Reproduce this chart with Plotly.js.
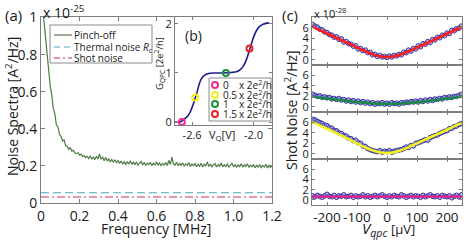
<!DOCTYPE html>
<html>
<head>
<meta charset="utf-8">
<script src="https://cdn.plot.ly/plotly-3.0.1.min.js"></script>
<style>html,body{margin:0;padding:0;background:#fff;}#chart{width:471px;height:243px;}</style>
</head>
<body>
<div id="chart"></div>
<script>
// ---------- Panel (a): noise spectra ----------
const freqStart = 0.008, freqStep = 0.008;
const pinchOff = [
 1.06,0.97,0.88,0.80,0.73,0.63,0.58,0.51,0.48,0.42,
 0.41,0.37,0.36,0.335,0.34,0.31,0.305,0.29,0.298,0.28,
 0.284,0.27,0.266,0.272,0.258,0.264,0.25,0.256,0.245,0.252,
 0.24,0.255,0.236,0.248,0.234,0.252,0.238,0.264,0.236,0.247,
 0.228,0.245,0.226,0.238,0.222,0.235,0.22,0.233,0.216,0.23,
 0.213,0.226,0.21,0.223,0.207,0.222,0.21,0.228,0.208,0.22,
 0.206,0.221,0.204,0.216,0.224,0.205,0.218,0.203,0.215,0.207,
 0.22,0.202,0.214,0.205,0.222,0.203,0.216,0.201,0.213,0.205,
 0.218,0.202,0.229,0.208,0.247,0.21,0.204,0.22,0.201,0.214,
 0.203,0.216,0.198,0.212,0.202,0.218,0.197,0.21,0.201,0.214,
 0.196,0.209,0.198,0.214,0.194,0.21,0.199,0.222,0.197,0.209,
 0.195,0.207,0.212,0.194,0.208,0.198,0.216,0.195,0.206,0.197,
 0.21,0.194,0.205,0.214,0.195,0.207,0.193,0.205,0.196,0.211,
 0.193,0.206,0.197,0.212,0.192,0.204,0.195,0.208,0.19,0.203,
 0.194,0.207,0.191,0.202,0.194,0.209,0.189,0.201,0.192,0.2
];
const freq = pinchOff.map((_, i) => +(freqStart + i * freqStep).toFixed(4));
const levelX = [0, 1.2];
const thermalNoise = [0.055, 0.055];
const shotNoise = [0.032, 0.032];
const freqTicks = [0, 0.2, 0.4, 0.6, 0.8, 1.0, 1.2];
const freqTickText = ['0', '0.2', '0.4', '0.6', '0.8', '1.0', '1.2'];
const specTicks = [0, 0.2, 0.4, 0.6, 0.8, 1.0];
const specTickText = ['0', '0.2', '0.4', '0.6', '0.8', '1'];

// ---------- Panel (b): conductance inset ----------
const vq = [-2.767,-2.72,-2.70,-2.67,-2.64,-2.62,-2.60,-2.58,-2.57,-2.55,-2.53,-2.51,-2.48,-2.44,-2.38,-2.30,-2.22,-2.16,-2.13,-2.10,-2.08,-2.06,-2.04,-2.02,-2.00,-1.97,-1.94,-1.91,-1.88,-1.85];
const gqpc = [0,0,0.02,0.07,0.13,0.20,0.30,0.42,0.49,0.62,0.78,0.88,0.95,0.99,1.0,1.0,1.01,1.03,1.07,1.14,1.22,1.33,1.47,1.60,1.73,1.87,1.95,1.99,2.01,2.02];
const opV = [-2.70, -2.57, -2.27, -2.04];
const opG = [0, 0.5, 1.0, 1.5];
const opLabels = ['0', '0.5', '1', '1.5'];
const opColors = ['#ee2d8c', '#f2ee1a', '#1f8f3c', '#f02020'];
const vqTicks = [-2.6, -2.0];
const vqTickText = ['-2.6', '-2.0'];
const gTicks = [0, 1, 2];

// ---------- Panel (c): shot noise vs bias ----------
const vFit = [-250,-225,-200,-175,-150,-125,-100,-75,-50,-25,0,25,50,75,100,125,150,175,200,225,250];
const fitRed = [6.2,5.55,4.9,4.25,3.6,2.95,2.3,1.67,1.08,0.65,0.5,0.65,1.08,1.65,2.27,2.9,3.55,4.2,4.85,5.5,6.12];
const fitGreen = [1.95,1.75,1.58,1.4,1.22,1.05,0.9,0.76,0.65,0.57,0.55,0.57,0.64,0.74,0.87,1.02,1.18,1.36,1.55,1.75,1.98];
const fitYellow = [6.1,5.45,4.8,4.1,3.4,2.7,2.0,1.3,0.7,0.28,0.15,0.3,0.75,1.35,2.0,2.65,3.3,3.95,4.6,5.3,6.0];
const fitMagenta = [0.62,0.62,0.62,0.62,0.62,0.62,0.62,0.62,0.62,0.62,0.62,0.62,0.62,0.62,0.62,0.62,0.62,0.62,0.62,0.62,0.62];
const ptsRed = [6.6,6.3,6.1,5.7,5.6,5.2,5.1,4.7,4.6,4.2,4.3,3.8,3.9,3.3,3.4,3.0,2.9,2.5,2.6,2.0,2.1,1.7,1.8,1.3,1.4,0.9,1.0,0.6,0.8,0.5,0.6,0.4,0.7,0.5,0.8,0.7,1.0,0.9,1.4,1.3,1.8,1.6,2.1,2.0,2.6,2.4,3.0,2.9,3.4,3.2,3.8,3.7,4.2,4.1,4.6,4.5,5.0,4.9,5.5,5.4,5.8,5.9,6.3];
const ptsGreen = [2.4,2.2,2.0,2.1,1.8,1.9,1.7,1.8,1.5,1.6,1.4,1.6,1.3,1.4,1.1,1.3,1.0,1.2,0.9,1.1,0.8,1.0,0.7,0.9,0.6,0.8,0.5,0.7,0.6,0.8,0.5,0.7,0.5,0.8,0.6,0.7,0.5,0.8,0.7,0.9,0.8,1.0,0.9,1.1,0.9,1.2,1.0,1.3,1.1,1.4,1.2,1.5,1.4,1.6,1.5,1.8,1.7,1.9,1.8,2.0,2.0,2.2,2.4];
const ptsYellow = [6.6,6.5,6.2,6.0,5.8,5.5,5.4,5.0,4.9,4.5,4.4,4.0,3.9,3.5,3.4,3.0,2.9,2.5,2.6,2.1,2.0,1.5,1.4,1.0,0.8,0.6,0.5,0.4,0.6,0.3,0.5,0.4,0.6,0.3,0.5,0.6,0.7,0.8,1.0,1.3,1.2,1.6,1.5,2.0,2.1,2.3,2.5,2.7,2.6,3.1,3.3,3.5,3.6,3.9,4.1,4.3,4.4,4.8,4.9,5.2,5.3,5.6,5.8];
const ptsMagenta = [0.8,0.6,0.9,0.7,0.5,0.8,1.1,0.7,0.6,0.9,0.5,0.8,0.7,1.0,0.6,0.7,0.9,0.5,0.8,0.6,0.7,1.0,0.6,0.8,0.5,0.7,0.9,0.6,0.8,1.0,0.7,0.5,0.8,0.6,0.9,0.7,0.6,1.0,0.8,0.5,0.7,0.9,0.6,0.8,0.7,0.5,0.9,0.6,0.8,1.0,0.7,0.6,0.8,0.5,0.9,0.7,0.6,0.8,0.4,0.7,0.9,0.6,1.0];
const vPtsMin = -248, vPtsMax = 248;
const biasTicks = [-200, -100, 0, 100, 200];
const biasTickText = ['-200', '-100', '0', '100', '200'];
const shotTicks = [0, 2, 4, 6];

function grid(arr) { const n = arr.length; return arr.map((_, i) => vPtsMin + i * (vPtsMax - vPtsMin) / (n - 1)); }

const W = 471, H = 243;
const px = x => x / W, py = y => 1 - y / H;
const AX = '#7d7d7d';
const FONT = 'Open Sans, DejaVu Sans, sans-serif';

const traces = [];
traces.push({x: freq, y: pinchOff, xaxis: 'x', yaxis: 'y', mode: 'lines', line: {color: '#4e7b45', width: 1.2}});
traces.push({x: levelX, y: thermalNoise, xaxis: 'x', yaxis: 'y', mode: 'lines', line: {color: '#45a9c2', width: 1.1, dash: '8px,4px'}});
traces.push({x: levelX, y: shotNoise, xaxis: 'x', yaxis: 'y', mode: 'lines', line: {color: '#cf2f72', width: 1.1, dash: '8px,3px,2px,3px'}});
traces.push({x: vq, y: gqpc, xaxis: 'x2', yaxis: 'y2', mode: 'lines', line: {color: '#1c1c8c', width: 1.6, shape: 'spline'}});
traces.push({x: opV, y: opG, xaxis: 'x2', yaxis: 'y2', mode: 'markers', marker: {symbol: 'circle-open', size: 6, color: opColors, line: {width: 2, color: opColors}}});

const panels = [
  {pts: ptsRed, fit: fitRed, col: '#ff1f1f', w: 2.6},
  {pts: ptsGreen, fit: fitGreen, col: '#1b8a47', w: 2.4},
  {pts: ptsYellow, fit: fitYellow, col: '#f4f21c', w: 2.6},
  {pts: ptsMagenta, fit: fitMagenta, col: '#e8208a', w: 2.2}
];
panels.forEach((p, i) => {
  const xa = 'x' + (i + 3), ya = 'y' + (i + 3);
  traces.push({x: grid(p.pts), y: p.pts, xaxis: xa, yaxis: ya, mode: 'markers',
    marker: {symbol: 'circle', size: 4.5, color: 'rgba(150,150,225,0.6)', line: {color: '#33339f', width: 1}}});
  traces.push({x: vFit, y: p.fit, xaxis: xa, yaxis: ya, mode: 'lines', line: {color: p.col, width: p.w, shape: 'spline'}});
});
traces.forEach(t => { t.showlegend = false; t.hoverinfo = 'skip'; });

function axisBase(extra) {
  return Object.assign({ticks: 'inside', ticklen: 4, tickcolor: AX, showline: true, linecolor: AX, linewidth: 1,
    mirror: 'ticks', showgrid: false, zeroline: false, tickangle: 0, automargin: false,
    tickfont: {size: 14, color: '#1a1a1a'}, fixedrange: true}, extra);
}

const layout = {
  width: W, height: H, margin: {l: 0, r: 0, t: 0, b: 0}, autosize: false,
  paper_bgcolor: '#fff', plot_bgcolor: '#fff', showlegend: false,
  font: {family: FONT, color: '#1a1a1a'},
  xaxis: axisBase({domain: [px(41), px(272)], range: [0, 1.2], anchor: 'y', tickvals: freqTicks, ticktext: freqTickText}),
  yaxis: axisBase({domain: [py(203), py(17)], range: [0, 1.003], anchor: 'x', tickvals: specTicks, ticktext: specTickText}),
  xaxis2: axisBase({domain: [px(175), px(272)], range: [-2.767, -1.82], anchor: 'y2', tickvals: vqTicks, ticktext: vqTickText, ticklen: 3, tickfont: {size: 11, color: '#1a1a1a'}}),
  yaxis2: axisBase({domain: [py(125), py(17)], range: [-0.06, 2.14], anchor: 'x2', tickvals: gTicks, ticktext: gTicks.map(String), ticklen: 3, tickfont: {size: 11, color: '#1a1a1a'}}),
  annotations: [], shapes: []
};
const cDomains = [[65, 17], [112, 65], [159, 112], [205, 159]];
cDomains.forEach((d, i) => {
  const n = i + 3;
  layout['xaxis' + n] = axisBase({domain: [px(312), px(462)], range: [-250, 250], anchor: 'y' + n,
    tickvals: biasTicks, ticktext: biasTickText, showticklabels: i === 3, ticklen: 3, tickfont: {size: 13.5, color: '#1a1a1a'}});
  layout['yaxis' + n] = axisBase({domain: [py(d[0]), py(d[1])], range: [-1, 8], anchor: 'x' + n,
    tickvals: shotTicks, ticktext: shotTicks.map(String), ticklen: 3, tickfont: {size: 11, color: '#1a1a1a'}});
});

function ann(x, y, text, size, opts) {
  layout.annotations.push(Object.assign({xref: 'paper', yref: 'paper', x: px(x), y: py(y), text: text, showarrow: false,
    xanchor: 'left', yanchor: 'middle', font: {size: size, color: '#1a1a1a', family: FONT}}, opts || {}));
}
ann(3, 15, '(a)', 15);
ann(41, 12, 'x 10<sup>-25</sup>', 14);
ann(280, 15, '(c)', 15);
ann(312, 13, 'x 10<sup>-28</sup>', 11);
ann(183, 35, '(b)', 14);
ann(12, 107, 'Noise Spectra [A<sup>2</sup>/Hz]', 14, {xanchor: 'center', textangle: -90});
ann(156, 228, 'Frequency [MHz]', 14, {xanchor: 'center'});
ann(159, 64, 'G<sub>QPC</sub> [2e<sup>2</sup>/h]', 9.5, {xanchor: 'center', textangle: -90});
ann(222, 135, 'V<sub>Q</sub>[V]', 11, {xanchor: 'center'});
ann(291, 110, 'Shot Noise [A<sup>2</sup>/Hz]', 14, {xanchor: 'center', textangle: -90});
ann(388, 242, '<i>V<sub>qpc</sub></i> <span style="font-size:13px">[μV]</span>', 15, {xanchor: 'center', yanchor: 'bottom'});

// legend (a)
layout.shapes.push({type: 'rect', xref: 'paper', yref: 'paper', x0: px(50), x1: px(152), y0: py(63), y1: py(25), line: {color: '#8a8a8a', width: 1}, fillcolor: '#fff'});
const legA = [
  {y: 35, text: 'Pinch-off', col: '#4e7b45', dash: 'solid'},
  {y: 47, text: 'Thermal noise <i>R</i><sub>c</sub>', col: '#45a9c2', dash: '6px,4px'},
  {y: 58, text: 'Shot noise', col: '#cf2f72', dash: '6px,3px,2px,3px'}
];
legA.forEach(e => {
  layout.shapes.push({type: 'line', xref: 'paper', yref: 'paper', x0: px(54), x1: px(72), y0: py(e.y), y1: py(e.y), line: {color: e.col, width: 1.2, dash: e.dash}});
  ann(72, e.y, e.text, 10);
});
// legend (b)
layout.shapes.push({type: 'rect', xref: 'paper', yref: 'paper', x0: px(209), x1: px(271), y0: py(121), y1: py(78), line: {color: '#8a8a8a', width: 1}, fillcolor: '#fff'});
const legBy = [85, 95, 104, 114];
opLabels.forEach((lab, i) => {
  const cy = legBy[i];
  layout.shapes.push({type: 'circle', xref: 'paper', yref: 'paper', x0: px(212), x1: px(218), y0: py(cy + 3), y1: py(cy - 3), line: {color: opColors[i], width: 2}});
  ann(221, cy, lab, 10);
  ann(237, cy, 'x 2e<sup>2</sup>/h', 10);
});

Plotly.newPlot('chart', traces, layout, {displayModeBar: false, staticPlot: true});
</script>
</body>
</html>
